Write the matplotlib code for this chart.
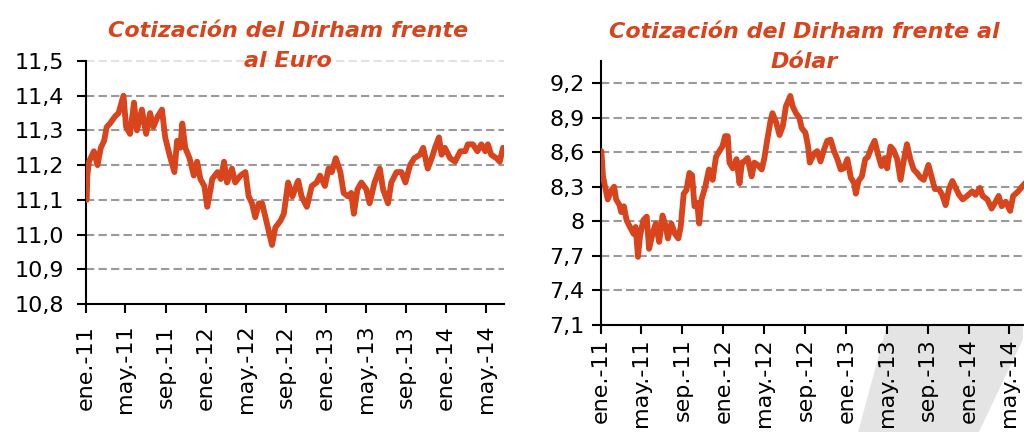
import matplotlib
matplotlib.use('Agg')
import matplotlib.pyplot as plt
import pandas as pd
from matplotlib.patches import Polygon

plt.rcParams['font.family'] = ['DejaVu Sans']

# ---------------- data ----------------
eur_dates = [
    '2011-01-03', '2011-01-05', '2011-01-10', '2011-01-25', '2011-02-05', '2011-02-15', '2011-02-25',
    '2011-03-05', '2011-03-15', '2011-03-30', '2011-04-10', '2011-04-25', '2011-05-03', '2011-05-15',
    '2011-05-27', '2011-06-05', '2011-06-20', '2011-07-03', '2011-07-15', '2011-07-25', '2011-08-07',
    '2011-08-20', '2011-08-30', '2011-09-12', '2011-09-27', '2011-10-05', '2011-10-15', '2011-10-21',
    '2011-10-30', '2011-11-12', '2011-11-25', '2011-12-05', '2011-12-15', '2011-12-27', '2012-01-05',
    '2012-01-15', '2012-01-20', '2012-02-05', '2012-02-15', '2012-02-25', '2012-03-05', '2012-03-20',
    '2012-03-30', '2012-04-15', '2012-04-30', '2012-05-10', '2012-05-20', '2012-05-30', '2012-06-10',
    '2012-06-20', '2012-06-30', '2012-07-10', '2012-07-20', '2012-07-30', '2012-08-15', '2012-08-25',
    '2012-09-07', '2012-09-20', '2012-09-28', '2012-10-05', '2012-10-08', '2012-10-18', '2012-11-03',
    '2012-11-18', '2012-12-03', '2012-12-13', '2012-12-28', '2013-01-08', '2013-01-18', '2013-01-30',
    '2013-02-13', '2013-02-23', '2013-03-08', '2013-03-18', '2013-03-26', '2013-04-06', '2013-04-18',
    '2013-05-03', '2013-05-13', '2013-05-28', '2013-06-13', '2013-06-23', '2013-07-08', '2013-07-18',
    '2013-08-03', '2013-08-18', '2013-08-30', '2013-09-13', '2013-09-26', '2013-10-13', '2013-10-23',
    '2013-11-06', '2013-11-18', '2013-11-28', '2013-12-10', '2013-12-18', '2013-12-28', '2014-01-13',
    '2014-01-28', '2014-02-13', '2014-02-28', '2014-03-08', '2014-03-23', '2014-04-06', '2014-04-18',
    '2014-04-30', '2014-05-08', '2014-05-18', '2014-06-03', '2014-06-13', '2014-06-23',
]
eur_values = [
    11.10, 11.17, 11.21, 11.24, 11.20, 11.25, 11.27,
    11.31, 11.32, 11.34, 11.35, 11.40, 11.31, 11.29,
    11.38, 11.30, 11.36, 11.29, 11.35, 11.31, 11.34,
    11.36, 11.28, 11.23, 11.18, 11.27, 11.25, 11.32,
    11.25, 11.22, 11.17, 11.21, 11.16, 11.14, 11.08,
    11.13, 11.16, 11.18, 11.16, 11.21, 11.15, 11.19,
    11.15, 11.17, 11.18, 11.11, 11.09, 11.05, 11.09,
    11.09, 11.05, 11.01, 10.97, 11.02, 11.04, 11.06,
    11.15, 11.11, 11.13, 11.15, 11.155, 11.11, 11.08,
    11.14, 11.15, 11.17, 11.14, 11.19, 11.18, 11.22,
    11.18, 11.12, 11.11, 11.12, 11.06, 11.13, 11.15,
    11.13, 11.09, 11.15, 11.19, 11.13, 11.09, 11.15,
    11.18, 11.18, 11.15, 11.20, 11.22, 11.23, 11.25,
    11.19, 11.22, 11.25, 11.28, 11.23, 11.25, 11.22,
    11.21, 11.24, 11.24, 11.26, 11.26, 11.24, 11.26,
    11.24, 11.26, 11.23, 11.22, 11.21, 11.25,
]

usd_dates = [
    '2011-01-03', '2011-01-08', '2011-01-14', '2011-01-22', '2011-02-02', '2011-02-10', '2011-02-16',
    '2011-02-26', '2011-03-03', '2011-03-11', '2011-03-19', '2011-03-29', '2011-04-09', '2011-04-15',
    '2011-04-22', '2011-04-28', '2011-05-08', '2011-05-18', '2011-05-25', '2011-06-04', '2011-06-14',
    '2011-06-24', '2011-07-04', '2011-07-14', '2011-07-20', '2011-07-30', '2011-08-10', '2011-08-20',
    '2011-08-27', '2011-09-05', '2011-09-13', '2011-09-22', '2011-09-30', '2011-10-07', '2011-10-15',
    '2011-10-21', '2011-10-28', '2011-11-08', '2011-11-19', '2011-11-30', '2011-12-10', '2011-12-20',
    '2011-12-29', '2012-01-06', '2012-01-14', '2012-01-19', '2012-01-29', '2012-02-09', '2012-02-18',
    '2012-02-25', '2012-03-03', '2012-03-13', '2012-03-25', '2012-04-02', '2012-04-12', '2012-04-24',
    '2012-05-02', '2012-05-10', '2012-05-20', '2012-05-26', '2012-06-06', '2012-06-16', '2012-06-26',
    '2012-07-05', '2012-07-18', '2012-07-25', '2012-08-04', '2012-08-14', '2012-08-21', '2012-09-01',
    '2012-09-09', '2012-09-14', '2012-09-19', '2012-09-27', '2012-10-06', '2012-10-16', '2012-10-26',
    '2012-11-05', '2012-11-15', '2012-11-25', '2012-12-05', '2012-12-15', '2012-12-24', '2013-01-04',
    '2013-01-14', '2013-01-24', '2013-01-29', '2013-02-06', '2013-02-16', '2013-02-26', '2013-03-06',
    '2013-03-16', '2013-03-26', '2013-04-05', '2013-04-15', '2013-04-25', '2013-05-02', '2013-05-12',
    '2013-05-21', '2013-06-01', '2013-06-11', '2013-06-20', '2013-06-30', '2013-07-10', '2013-07-20',
    '2013-07-30', '2013-08-09', '2013-08-19', '2013-09-02', '2013-09-11', '2013-09-21', '2013-10-03',
    '2013-10-13', '2013-10-23', '2013-11-02', '2013-11-12', '2013-11-22', '2013-12-02', '2013-12-13',
    '2013-12-26', '2014-01-10', '2014-01-20', '2014-02-02', '2014-02-10', '2014-02-24', '2014-03-09',
    '2014-03-19', '2014-03-30', '2014-04-08', '2014-04-20', '2014-05-03', '2014-05-12', '2014-05-27',
    '2014-06-07', '2014-06-16',
]
usd_values = [
    8.61, 8.39, 8.30, 8.19, 8.27, 8.30, 8.19,
    8.14, 8.08, 8.13, 8.01, 7.95, 7.89, 7.95,
    7.69, 7.87, 8.01, 8.04, 7.76, 7.89, 7.98,
    7.82, 8.05, 7.95, 7.85, 7.98, 7.89, 7.85,
    7.95, 8.24, 8.27, 8.42, 8.40, 8.13, 8.16,
    7.98, 8.19, 8.30, 8.45, 8.36, 8.56, 8.61,
    8.65, 8.74, 8.74, 8.51, 8.46, 8.54, 8.33,
    8.51, 8.52, 8.55, 8.39, 8.51, 8.49, 8.45,
    8.55, 8.70, 8.87, 8.94, 8.86, 8.75, 8.83,
    9.00, 9.09, 9.00, 8.94, 8.90, 8.81, 8.77,
    8.65, 8.51, 8.54, 8.59, 8.61, 8.52, 8.62,
    8.70, 8.71, 8.61, 8.54, 8.45, 8.46, 8.54,
    8.38, 8.33, 8.24, 8.35, 8.39, 8.54, 8.56,
    8.64, 8.70, 8.58, 8.48, 8.55, 8.46, 8.65,
    8.62, 8.54, 8.36, 8.52, 8.67, 8.54, 8.45,
    8.42, 8.38, 8.36, 8.49, 8.39, 8.28, 8.28,
    8.23, 8.14, 8.28, 8.35, 8.29, 8.23, 8.19,
    8.22, 8.26, 8.23, 8.29, 8.22, 8.19, 8.11,
    8.16, 8.22, 8.13, 8.17, 8.09, 8.22, 8.26,
    8.30, 8.33,
]

tick_dates = ['2011-01-01', '2011-05-01', '2011-09-01', '2012-01-01', '2012-05-01', '2012-09-01',
              '2013-01-01', '2013-05-01', '2013-09-01', '2014-01-01', '2014-05-01']
tick_labels = ['ene.-11', 'may.-11', 'sep.-11', 'ene.-12', 'may.-12', 'sep.-12',
               'ene.-13', 'may.-13', 'sep.-13', 'ene.-14', 'may.-14']
x_range = ['2011-01-01', '2014-06-26']

eur_yticks = [10.8, 10.9, 11.0, 11.1, 11.2, 11.3, 11.4, 11.5]
eur_ylabels = ['10,8', '10,9', '11,0', '11,1', '11,2', '11,3', '11,4', '11,5']
eur_ylim = [10.8, 11.5]
usd_yticks = [7.1, 7.4, 7.7, 8.0, 8.3, 8.6, 8.9, 9.2]
usd_ylabels = ['7,1', '7,4', '7,7', '8', '8,3', '8,6', '8,9', '9,2']
usd_ylim = [7.1, 9.394]

eur_title = ['Cotización del Dirham frente', 'al Euro']
usd_title = ['Cotización del Dirham frente al', 'Dólar']

# ---------------- style ----------------
RED = '#D8441C'
GRID = '#9a9a9a'

fig = plt.figure(figsize=(10.24, 4.32), dpi=100)

# decorative grey band behind the lower right labels
band = Polygon([(0.8662, 0.2477), (0.999, 0.2477), (0.9990, 0.215), (0.956, 0.0), (0.838, 0.0)],
               closed=True, transform=fig.transFigure, facecolor='#e4e4e4', edgecolor='none', zorder=-5)
fig.patches.append(band)

ax1 = fig.add_axes([0.0840, 0.2963, 0.4082, 0.5625])
ax2 = fig.add_axes([0.5866, 0.2484, 0.4176, 0.6104])


def style(ax, dates, values, yticks, ylabels, ylim, ypad, xpad):
    ax.set_facecolor('none')
    ax.plot(pd.to_datetime(dates), values, color=RED, lw=4.2, solid_joinstyle='round',
            solid_capstyle='round', zorder=3)
    ax.set_xlim(pd.to_datetime(x_range))
    ax.set_ylim(ylim)
    ax.set_yticks(yticks)
    ax.set_yticklabels(ylabels, fontsize=16)
    ax.set_xticks(pd.to_datetime(tick_dates))
    ax.set_xticklabels(tick_labels, rotation=90, fontsize=16)
    for s in ['top', 'right']:
        ax.spines[s].set_visible(False)
    for s in ['left', 'bottom']:
        ax.spines[s].set_linewidth(1.5)
        ax.spines[s].set_color('black')
    ax.tick_params(axis='both', direction='out', length=6.5, width=1.5, colors='black')
    ax.tick_params(axis='y', pad=ypad)
    ax.tick_params(axis='x', pad=xpad)
    ax.grid(False)
    for yv in yticks[1:]:
        ax.axhline(yv, color=GRID, lw=1.5, ls=(0, (4, 2)), zorder=1, clip_on=False)


style(ax1, eur_dates, eur_values, eur_yticks, eur_ylabels, eur_ylim, 9.5, 8.5)
style(ax2, usd_dates, usd_values, usd_yticks, usd_ylabels, usd_ylim, 5.0, 3.5)

# lighter top gridline on the left chart (under the title)
ax1.lines[-1].set_color('#e2e2e2')

# titles
tkw = dict(color=RED, fontsize=16, fontweight='bold', fontstyle='italic', ha='center', va='baseline')
fig.text(288 / 1024, 1 - 37 / 432, eur_title[0], **tkw)
fig.text(288 / 1024, 1 - 67 / 432, eur_title[1], **tkw)
fig.text(804 / 1024, 1 - 38 / 432, usd_title[0], **tkw)
fig.text(804 / 1024, 1 - 68 / 432, usd_title[1], **tkw)

fig.savefig('out.png', dpi=100)
